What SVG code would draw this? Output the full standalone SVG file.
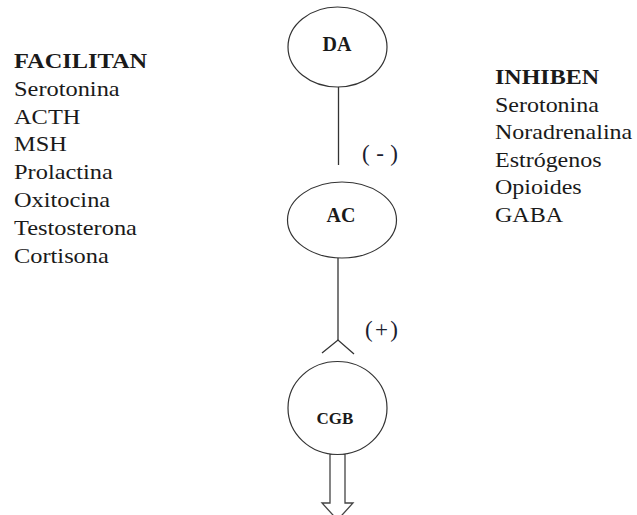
<svg xmlns="http://www.w3.org/2000/svg" width="637" height="515" viewBox="0 0 637 515">
<style>
.node{fill:#fff;stroke:#333;stroke-width:1.2}
.lbl{font-family:"Liberation Serif","Times New Roman",serif;font-weight:bold;fill:#1a1a1a;text-anchor:middle}
.txt{font-family:"Liberation Serif","Times New Roman",serif;font-size:20px;fill:#1a1a1a}
.hd{font-weight:bold}
.conn{fill:none;stroke:#333;stroke-width:1.3}
.sign{font-family:"Liberation Serif","Times New Roman",serif;font-size:23px;fill:#1a2030}
</style>
<rect width="637" height="515" fill="#fff"/>
<g id="facilitan" transform="translate(14,0) scale(1.22,1)">
<text class="txt hd" x="0" y="68">FACILITAN</text>
<text class="txt" x="0" y="95.8">Serotonina</text>
<text class="txt" x="0" y="123.6">ACTH</text>
<text class="txt" x="0" y="151.4">MSH</text>
<text class="txt" x="0" y="179.2">Prolactina</text>
<text class="txt" x="0" y="207">Oxitocina</text>
<text class="txt" x="0" y="234.8">Testosterona</text>
<text class="txt" x="0" y="262.6">Cortisona</text>
</g>
<g id="inhiben" transform="translate(495,0) scale(1.2,1)">
<text class="txt hd" x="0" y="84">INHIBEN</text>
<text class="txt" x="0" y="111.6">Serotonina</text>
<text class="txt" x="0" y="139.2">Noradrenalina</text>
<text class="txt" x="0" y="166.8">Estrógenos</text>
<text class="txt" x="0" y="194.4">Opioides</text>
<text class="txt" x="0" y="222">GABA</text>
</g>
<g id="connectors">
<line class="conn" x1="338.5" y1="87" x2="338.5" y2="165"/>
<line class="conn" x1="338" y1="258" x2="338" y2="340"/>
<polyline class="conn" points="322,353 338,340 354,354"/>
<polygon points="330,454 345,454 345,503 353,503 337.5,520 322,503 330,503" fill="#fff" stroke="#444" stroke-width="1.3"/>
<text class="sign" x="362" y="161" textLength="36" lengthAdjust="spacing">(-)</text>
<text class="sign" x="365" y="337" textLength="33" lengthAdjust="spacing">(+)</text>
</g>
<g id="DA">
<ellipse class="node" cx="337.5" cy="47" rx="49.5" ry="40"/>
<text class="lbl" x="337" y="51" font-size="20">DA</text>
</g>
<g id="AC">
<ellipse class="node" cx="342" cy="220" rx="54.5" ry="38"/>
<text class="lbl" x="341" y="222" font-size="20">AC</text>
</g>
<g id="CGB">
<ellipse class="node" cx="337.5" cy="408" rx="49.5" ry="46.5"/>
<text class="lbl" x="335" y="424" font-size="17">CGB</text>
</g>
</svg>
